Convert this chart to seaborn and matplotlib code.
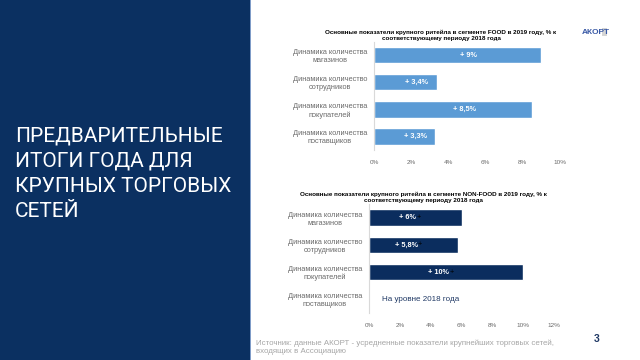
import matplotlib
matplotlib.use("Agg")
import matplotlib.pyplot as plt
from matplotlib.patches import Rectangle
import seaborn as sns
import pandas as pd

sns.set_theme(style="white")
plt.rcParams['font.family'] = ['Liberation Sans', 'DejaVu Sans']

# ---- data ----
categories = ["Динамика количества\nмагазинов",
              "Динамика количество\nсотрудников",
              "Динамика количества\nпокупателей",
              "Динамика количества\nпоставщиков"]
food_values = [9.0, 3.4, 8.5, 3.3]
food_labels = ["+ 9%", "+ 3,4%", "+ 8,5%", "+ 3,3%"]
nonfood_values = [6.0, 5.8, 10.0, 0.0]
nonfood_labels = ["+ 6%", "+ 5,8%", "+ 10%", ""]
nonfood_note = "На уровне 2018 года"
food_ticks = [0, 2, 4, 6, 8, 10]
nonfood_ticks = [0, 2, 4, 6, 8, 10, 12]
title_food = "Основные показатели крупного ритейла в сегменте FOOD в 2019 году, % к\nсоответствующему периоду 2018 года"
title_nonfood = "Основные показатели крупного ритейла в сегменте NON-FOOD в 2019 году, % к\nсоответствующему периоду 2018 года"
slide_title = ["ПРЕДВАРИТЕЛЬНЫЕ", "ИТОГИ ГОДА ДЛЯ", "КРУПНЫХ ТОРГОВЫХ", "СЕТЕЙ"]
source_text = "Источник: данные АКОРТ - усредненные показатели крупнейших торговых сетей,\nвходящих в Ассоциацию"
page_no = "3"

W, H = 640, 360
NAVY = "#0b3061"
FOOD_C = "#5b9bd5"
NONFOOD_C = "#0b2d5e"
GRAY = "#6b6b6b"

fig = plt.figure(figsize=(6.4, 3.6), dpi=100)
fig.patch.set_facecolor("white")

# left panel
fig.patches.append(Rectangle((0, 0), 250 / W, 1, transform=fig.transFigure,
                             facecolor=NAVY, edgecolor="none", zorder=0))
fig.patches.append(Rectangle((249.5 / W, 0), 1.2 / W, 1, transform=fig.transFigure,
                             facecolor="#7f9cc8", edgecolor="none", zorder=0))
for i, line in enumerate(slide_title):
    fig.text(15 / W, 1 - (141.7 + 25 * i) / H, line, color="white",
             fontsize=15, family=["Roboto", "DejaVu Sans"], ha="left", va="baseline")


def style_axes(ax, ticks, xmax):
    ax.set_xlim(0, xmax)
    ax.set_ylim(3.5, -0.5)
    ax.set_xticks(ticks)
    ax.set_xticklabels([f"{t}%" for t in ticks], fontsize=4.6, color=GRAY)
    ax.tick_params(axis="x", length=0, pad=7)
    ax.tick_params(axis="y", length=0, pad=5)
    ax.set_yticks(range(len(categories)))
    ax.set_yticklabels(categories, fontsize=5.3, color=GRAY, multialignment="center")
    ax.set_xlabel("")
    ax.set_ylabel("")
    for s in ["top", "right", "bottom"]:
        ax.spines[s].set_visible(False)
    ax.spines["left"].set_color("#d9d9d9")
    ax.spines["left"].set_linewidth(0.8)
    ax.set_facecolor("none")


# FOOD chart
ax1 = fig.add_axes([374 / W, 1 - 150 / H, 186 / W, 108.5 / H])
df1 = pd.DataFrame({"cat": categories, "val": food_values})
sns.barplot(data=df1, x="val", y="cat", orient="h", color=FOOD_C, width=0.61,
            saturation=1, ax=ax1)
style_axes(ax1, food_ticks, 10)
for i, (v, lab) in enumerate(zip(food_values, food_labels)):
    ax1.annotate(lab, (v / 2, i), xytext=(8, 0), textcoords="offset points",
                 ha="center", va="center", color="white", fontsize=5.3, fontweight="bold")
fig.text(441 / W, 1 - 35 / H, title_food, ha="center", va="center",
         fontsize=4.5, fontweight="bold", color="black", linespacing=1.3)

# NON-FOOD chart
ax2 = fig.add_axes([369 / W, 1 - 313 / H, 185 / W, 109 / H])
df2 = pd.DataFrame({"cat": categories, "val": nonfood_values})
sns.barplot(data=df2, x="val", y="cat", orient="h", color=NONFOOD_C, width=0.6,
            saturation=1, ax=ax2)
style_axes(ax2, nonfood_ticks, 12)
for i, (v, lab) in enumerate(zip(nonfood_values, nonfood_labels)):
    if not lab:
        continue
    t = ax2.annotate(lab, (v / 2, i), xytext=(-5.5, 0), textcoords="offset points",
                     ha="center", va="center", color="white", fontsize=5.3, fontweight="bold")
    ax2.annotate("+", (1, 0.5), xycoords=t, xytext=(0.2, 0), textcoords="offset points",
                 ha="left", va="center", color="black", fontsize=5.3)
ax2.annotate(nonfood_note, (0, 3), xytext=(9, 0), textcoords="offset points",
             ha="left", va="center", color="#1f3864", fontsize=5.8)
fig.text(423 / W, 1 - 197 / H, title_nonfood, ha="center", va="center",
         fontsize=4.5, fontweight="bold", color="black", linespacing=1.3)

# logo
fig.text(582 / W, 1 - 32 / H, "АКОРТ", ha="left", va="center", fontsize=6,
         fontweight="bold", color="#3a5aa6")
fig.patches.append(Rectangle((602 / W, 1 - 36 / H), 5 / W, 8 / H, transform=fig.transFigure,
                             facecolor="#d5d5d5", edgecolor="none"))

# footer
fig.text(256 / W, 1 - 347 / H, source_text, ha="left", va="center", fontsize=5.7,
         color="#a6a6a6", linespacing=1.15)
fig.text(597 / W, 1 - 339 / H, page_no, ha="center", va="center", fontsize=7.5,
         fontweight="bold", color="#1f3864")

fig.savefig("out.png", dpi=100)
